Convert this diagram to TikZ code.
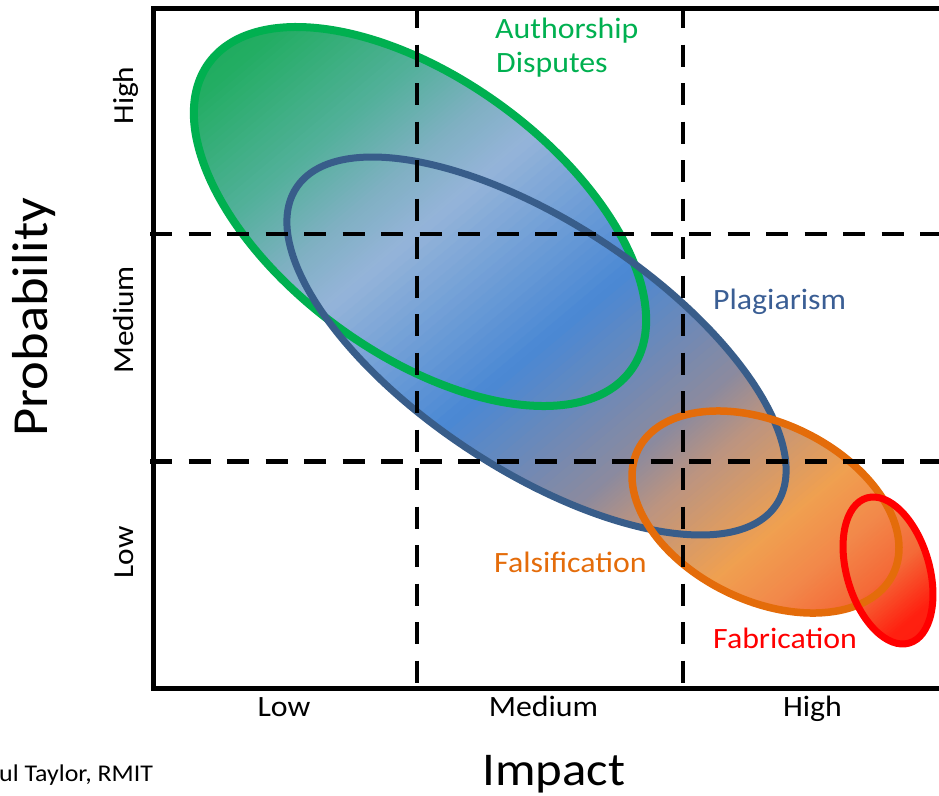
\documentclass[tikz,border=0pt]{standalone}
\usepackage{fontspec}
\setmainfont{Carlito}[FakeStretch=1.08]
\definecolor{gA}{HTML}{1FAA5C}
\definecolor{gB}{HTML}{22AD62}
\definecolor{gC}{HTML}{52B09A}
\definecolor{gD}{HTML}{7FB0C2}
\definecolor{gE}{HTML}{95B4D9}
\definecolor{gF}{HTML}{4A88D4}
\definecolor{gG}{HTML}{8C8A9E}
\definecolor{gH}{HTML}{BC9480}
\definecolor{gI}{HTML}{F0A050}
\definecolor{gJ}{HTML}{F2884A}
\definecolor{gK}{HTML}{F46A38}
\definecolor{gL}{HTML}{FF2010}
\definecolor{gM}{HTML}{FF1010}
\definecolor{cGreen}{HTML}{00B050}
\definecolor{cBlue}{HTML}{385D8A}
\definecolor{cOrange}{HTML}{E46C0A}
\definecolor{cRed}{HTML}{FF0000}
\definecolor{tBlue}{HTML}{3A5E94}
\newcommand\gradstrips{%
  \begin{scope}[rotate=-50]
  \foreach \gsa/\gca/\gsb/\gcb in {150/gA/200/gB, 200/gB/314/gC, 314/gC/388/gD, 388/gD/445/gE, 445/gE/611/gF, 611/gF/759/gG, 759/gG/810/gH, 810/gH/903/gI, 903/gI/960/gJ, 960/gJ/1010/gK, 1010/gK/1060/gL, 1060/gL/1250/gM}{%
    \foreach \gk in {0,...,19}{%
      \pgfmathsetmacro\gxa{\gsa+(\gsb-\gsa)*\gk/20}%
      \pgfmathsetmacro\gxb{\gsa+(\gsb-\gsa)*(\gk+1)/20+0.8}%
      \pgfmathtruncatemacro\gpct{100*(\gk+0.5)/20}%
      \fill[fill=\gcb!\gpct!\gca] (\gxa,-1300) rectangle (\gxb,1300);
    }%
  }%
  \end{scope}}
\begin{document}
\begin{tikzpicture}[x=1pt,y=-1pt,
  greenline/.style={draw=cGreen, line width=8pt},
  blueline/.style={draw=cBlue, line width=7pt},
  orangeline/.style={draw=cOrange, line width=7.5pt},
  redline/.style={draw=cRed, line width=7pt},
  griddash/.style={draw=black, line width=4.5pt, dash pattern=on 22pt off 16.5pt},
  frameline/.style={draw=black, line width=5pt, line join=miter},
  lbl/.style={inner sep=0pt, font=\fontsize{29.5}{34}\selectfont},
  ylbl/.style={inner sep=0pt, rotate=90, anchor=base, font=\fontsize{29}{34}\selectfont},
  bigl/.style={inner sep=0pt, font=\fontsize{47}{54}\selectfont}]
\useasboundingbox (0,0) rectangle (939,795);
% gradient fill of the union of the four ellipses
\begin{scope}
  \pgfpathellipse{\pgfpointxy{420}{216.5}}{\pgfpointxy{211.2}{153.4}}{\pgfpointxy{-80.8}{111.2}}
  \pgfpathellipse{\pgfpointxy{536.5}{346}}{\pgfpointxy{240.1}{158.3}}{\pgfpointxy{-68.0}{103.2}}
  \pgfpathellipse{\pgfpointxy{765.5}{512}}{\pgfpointxy{127.8}{61.8}}{\pgfpointxy{-38.6}{79.9}}
  \pgfpathellipse{\pgfpointxy{888}{570.5}}{\pgfpointxy{21.2}{72.6}}{\pgfpointxy{-39.6}{11.6}}
  \pgfusepath{clip}
  \gradstrips
\end{scope}
% outlines
\draw[greenline, rotate around={-36:(420,216.5)}] (420,216.5) ellipse [x radius=261, y radius=137.5];
\draw[blueline, rotate around={-33.4:(536.5,346)}] (536.5,346) ellipse [x radius=287.6, y radius=123.6];
\draw[orangeline, rotate around={-25.8:(765.5,512)}] (765.5,512) ellipse [x radius=141.9, y radius=88.8];
\draw[redline, rotate around={-73.7:(888,570.5)}] (888,570.5) ellipse [x radius=75.6, y radius=41.3];
% grid
\coordinate (hA) at (150,234);   \coordinate (hA2) at (939,234);
\coordinate (hB) at (150,461.5); \coordinate (hB2) at (939,461.5);
\coordinate (vA) at (417,6);     \coordinate (vA2) at (417,686);
\coordinate (vB) at (683,6);     \coordinate (vB2) at (683,686);
\draw[griddash] (hA) -- (hA2);
\draw[griddash] (hB) -- (hB2);
\draw[griddash] (vA) -- (vA2);
\draw[griddash] (vB) -- (vB2);
% frame
\coordinate (fTR) at (939,8);
\coordinate (fTL) at (153,8);
\coordinate (fBL) at (153,688);
\coordinate (fBR) at (939,688);
\draw[frameline] (fTR) -- (fTL) -- (fBL) -- (fBR);
% labels
\node[lbl, text=cGreen, anchor=base west] (auth1) at (495,38.5) {Authorship};
\node[lbl, text=cGreen, anchor=base west] (auth2) at (496,72) {Disputes};
\node[lbl, text=tBlue, anchor=base west] (plag) at (713,309) {Plagiarism};
\node[lbl, text=cOrange, anchor=base west] (fals) at (494,572) {Falsification};
\node[lbl, text=cRed, anchor=base west] (fabr) at (713,648) {Fabrication};
\node[lbl, anchor=base] (xlow) at (284,716) {Low};
\node[lbl, anchor=base] (xmed) at (543.5,716) {Medium};
\node[lbl, anchor=base] (xhigh) at (812.5,716) {High};
\node[bigl, anchor=base] (ximp) at (554,785) {Impact};
\node[ylbl] (yhigh) at (133.5,95.5) {High};
\node[ylbl] (ymed) at (133.5,320) {Medium};
\node[ylbl] (ylow) at (133.5,552.5) {Low};
\node[inner sep=0pt, rotate=90, anchor=base, font=\fontsize{50.5}{58}\selectfont] (yprob) at (47,317) {Probability};
\node[inner sep=0pt, anchor=base west, font=\fontsize{24}{28}\selectfont] (credit) at (-1,781) {ul Taylor, RMIT};
\end{tikzpicture}
\end{document}
